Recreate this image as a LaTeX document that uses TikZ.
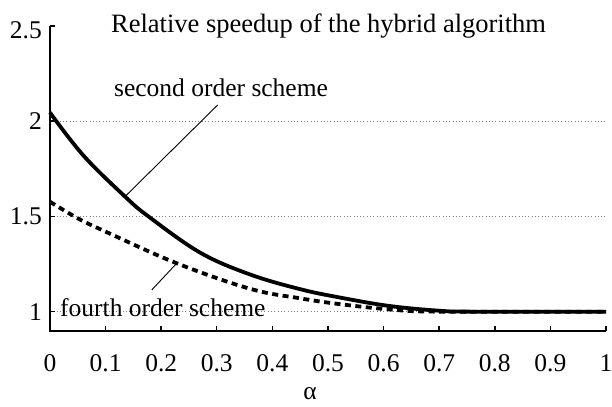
\documentclass[tikz,border=0pt]{standalone}
\usepackage{fontspec}
\setmainfont{Liberation Serif}
\begin{document}
\begin{tikzpicture}[x=556bp,y=190.5bp,
    every node/.style={font=\fontsize{25.5bp}{30bp}\selectfont, inner sep=0pt},
    curve/.style={line width=3.8bp},
    grid line/.style={gray, line width=0.8bp, dash pattern=on 1bp off 2.3bp},
    leader/.style={line width=0.9bp}]
        \useasboundingbox (-0.0899,0.4997) rectangle (1.0108,2.636);

        % Dotted grid lines
        \foreach \v in {1,1.5,2}
            \draw[grid line] (0,\v) -- (1,\v);

        % Draw axes
        \draw[line width=1.8bp] (0,2.5) -- (0,0.9) -- (1,0.9);
        \foreach \a [count=\i] in {0,0.1,0.2,0.3,0.4,0.5,0.6,0.7,0.8,0.9,1} {
            \draw[line width=1.4bp] (\a,0.9) -- ++(0,5bp);
            \node[anchor=base] (xlab\i) at (\a,0.6835) {\a};
        }
        \foreach \v [count=\i] in {1,1.5,2} {
            \draw[line width=1.4bp] (0,\v) -- ++(5bp,0);
            \node[anchor=east] (ylab\i) at (-0.0144,\v) {\v};
        }
        \draw[line width=1.4bp] (0,2.5) -- ++(5bp,0);
        \node[anchor=east] (ylab4) at (-0.0144,2.479) {2.5};
        \node[anchor=base] (alphalab) at (0.4676,0.54) {α};

        % Title
        \node[anchor=base, font=\fontsize{26.5bp}{30bp}\selectfont] (title) at (0.501,2.468)
            {Relative speedup of the hybrid algorithm};

        % Second order scheme
        \draw[curve] plot[smooth, tension=0.6] coordinates {(0,2.045) (0.06,1.82) (0.135,1.604) (0.177,1.5)
            (0.27,1.31) (0.36,1.195) (0.45,1.118) (0.52,1.075) (0.61,1.03) (0.70,1.005) (0.76,1) (1,1)};

        % Fourth order scheme
        \draw[curve, dash pattern=on 6bp off 4.5bp] plot[smooth, tension=0.6] coordinates {(0,1.577) (0.05,1.49)
            (0.1,1.42) (0.228,1.254) (0.36,1.12) (0.45,1.07) (0.52,1.04) (0.61,1.012) (0.70,1) (1,1)};

        % Labels and leaders
        \node[anchor=base west] (second) at (0.115,2.132) {second order scheme};
        \coordinate (second end) at (0.3016,2.085);
        \coordinate (second tip) at (0.1349,1.604);
        \draw[leader] (second end) -- (second tip);

        \node[anchor=base west] (fourth) at (0.018,0.974) {fourth order scheme};
        \coordinate (fourth end) at (0.183,1.114);
        \coordinate (fourth tip) at (0.228,1.254);
        \draw[leader] (fourth end) -- (fourth tip);
    \end{tikzpicture}
\end{document}
